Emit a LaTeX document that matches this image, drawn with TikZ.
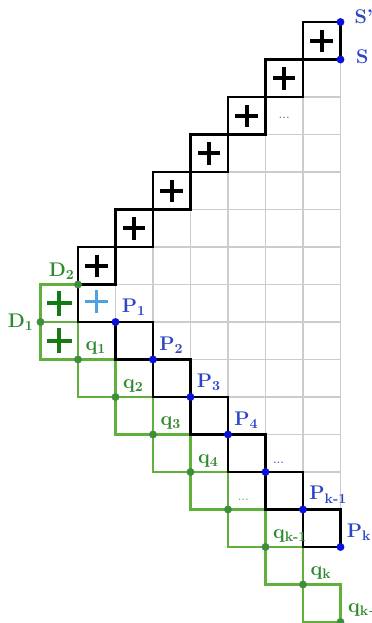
\documentclass[tikz,border=0pt]{standalone}
\usepackage{tikz}
\usetikzlibrary{positioning,calc}
\definecolor{pblue}{HTML}{2B44C8}
\definecolor{dblue}{HTML}{0A10DC}
\definecolor{lgreen}{HTML}{62B03C}
\definecolor{pgreen}{HTML}{147A14}
\definecolor{qgreen}{HTML}{2E8A2E}
\definecolor{ngreen}{HTML}{3E8E3E}
\definecolor{cblue}{HTML}{4EA2E2}
\newcommand{\lblfont}{\bfseries\fontsize{15}{17}\selectfont}
\tikzset{
  gline/.style   = {draw=black!20, line width=1.5pt},
  bline/.style   = {draw=black, line width=1.9pt},
  grline/.style  = {draw=lgreen, line width=1.9pt},
  pbox/.style    = {draw=black, line width=1.9pt, fill=white, minimum size=1cm,
                    inner sep=0pt},
  bdot/.style    = {circle, fill=dblue, inner sep=0pt, minimum size=6pt},
  gdot/.style    = {circle, fill=ngreen, inner sep=0pt, minimum size=6pt},
  bcross/.style  = {line width=2.8pt},
  gcross/.style  = {color=pgreen, line width=3.2pt, scale=1.12},
  lcross/.style  = {color=cblue, line width=2.5pt},
  lblp/.style    = {font=\lblfont, text=pblue, inner sep=1pt},
  lblq/.style    = {font=\lblfont, text=qgreen, inner sep=1pt},
  lbld/.style    = {font=\lblfont, text=qgreen, inner sep=1pt},
  crossmark/.pic = {\draw (-0.3,0) -- (0.3,0) (0,-0.3) -- (0,0.3);},
}

\begin{document}
\begin{tikzpicture}
  \useasboundingbox[fill=white] (-2.08,0.587) rectangle (7.84,-16.027);
  \foreach \i in {1,...,6}{
    \pgfmathtruncatemacro\jtop{7-\i}
    \pgfmathtruncatemacro\jbot{6+\i}
    \foreach \j in {\jtop,...,\jbot}
      \draw[gline] (\i,-\j) rectangle ++(1,-1);
  }
  \coordinate (csp) at (7,0);
  \coordinate (cs) at (7,-1);
  \coordinate (cd2) at (0,-7);
  \coordinate (cd1) at (-1,-8);
  \foreach \i in {1,...,7} \coordinate (c\i) at (\i,{-7-\i});
  \foreach \i in {0,...,7} \coordinate (e\i) at (\i,{-9-\i});

  \draw[grline] (-1,-7) rectangle (e0);
  \draw[grline] (cd1) -- (0,-8);
  \foreach \i [count=\n from 1] in {0,...,6} \draw[grline] (e\i) rectangle (e\n);
  \draw[bline] (cd2) -- (0,-8) -- (c1);
  \foreach \i [count=\n from 2] in {1,...,6} \draw[bline] (c\i) rectangle (c\n);
  \foreach \k in {0,...,6}{
    \node[pbox] (box\k) at ({6.5-\k},{-0.5-\k}) {};
    \pic[bcross] at (box\k) {crossmark};
  }
  \pic[gcross] at (-0.5,-7.5) {crossmark};
  \pic[gcross] at (-0.5,-8.5) {crossmark};
  \pic[lcross] at (0.5,-7.45) {crossmark};
  \node[text=black!60] (gdots) at (5.5,-2.55) {...};

  \node[bdot] (dsp) at (csp) {};
  \node[bdot] (ds) at (cs) {};
  \foreach \i in {1,...,7} \node[bdot] (p\i) at (c\i) {};
  \node[gdot] (d2) at (cd2) {};
  \node[gdot] (d1) at (cd1) {};
  \foreach \i in {0,...,7} \node[gdot] (g\i) at (e\i) {};

  \node[lblp, right=0.22cm of dsp, yshift=4pt] (lsp) {S'};
  \node[lblp, right=0.26cm of ds, yshift=2pt] (ls) {S};
  \node[lbld, above left=0.02cm and -0.03cm of d2] (ld2) {D\textsubscript{2}};
  \node[lbld, left=0.03cm of d1] (ld1) {D\textsubscript{1}};
  \foreach \i/\t in {1/1,2/2,3/3,4/4,6/k-1,7/k}
    \node[lblp, above right=0.05cm and 0.05cm of p\i] (lp\i) {P\textsubscript{\t}};
  \node[lblp, font=\normalsize, above right=0.1cm and 0.08cm of p5] (lp5) {...};
  \foreach \i/\t in {0/1,1/2,2/3,3/4,5/k-1,6/k,7/k+1}
    \node[lblq, above right=0.01cm and 0.08cm of g\i] (lq\i) {q\textsubscript{\t}};
  \node[lblq, font=\normalsize, text=lgreen, above right=0.12cm and 0.14cm of g4] (lq4) {...};
\end{tikzpicture}
\end{document}
